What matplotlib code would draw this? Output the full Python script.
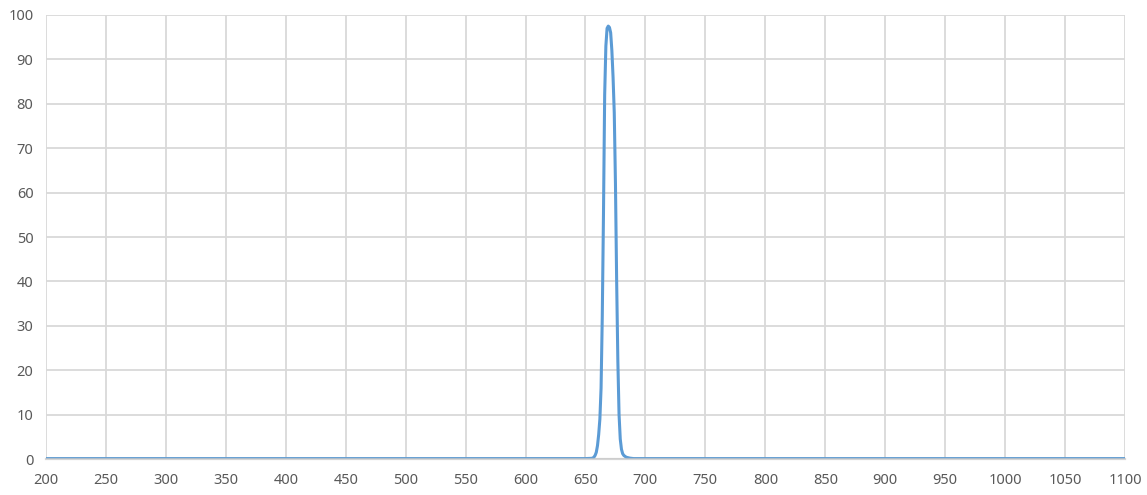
import matplotlib.pyplot as plt

# transmission curve (wavelength nm, %)
wavelength = [200, 300, 400, 500, 600, 640, 650, 655, 656, 657, 658, 659, 660,
              661, 662, 663, 664, 665, 666, 667, 668, 669, 670, 671, 672, 673,
              674, 675, 676, 677, 678, 679, 680, 681, 682, 684, 687, 690, 700,
              800, 900, 1000, 1100]
transmission = [0.1, 0.1, 0.1, 0.1, 0.1, 0.1, 0.1, 0.15, 0.2, 0.4, 0.8, 1.5, 3,
                5.5, 9, 16, 32, 55, 82, 93, 97, 97.5, 97.2, 96, 92, 86,
                78, 62, 40, 22, 10, 4.5, 2.2, 1.2, 0.8, 0.4, 0.2, 0.1, 0.1,
                0.1, 0.1, 0.1, 0.1]

x_ticks = list(range(200, 1101, 50))
y_ticks = list(range(0, 101, 10))

plt.rcParams['font.family'] = ['Noto Sans', 'DejaVu Sans']

fig = plt.figure(figsize=(11.47, 4.95), dpi=100)
ax = fig.add_axes([0.0401, 0.0727, 0.9407, 0.897])

ax.plot(wavelength, transmission, color='#5B9BD5', lw=2.2, zorder=2)

ax.set_xlim(200, 1100)
ax.set_ylim(0, 100)
ax.set_xticks(x_ticks)
ax.set_yticks(y_ticks)
ax.grid(True, color='#d9d9d9', lw=1.3)
ax.set_axisbelow(True)

for s in ['top', 'right', 'left']:
    ax.spines[s].set_visible(False)
ax.spines['bottom'].set_color('#c8c8c8')
ax.spines['bottom'].set_alpha(0.75)
ax.spines['bottom'].set_linewidth(1.6)
ax.spines['bottom'].set_zorder(2.5)

ax.tick_params(length=0, labelsize=10.5, labelcolor='#595959')
ax.tick_params(axis='x', pad=10)
ax.tick_params(axis='y', pad=9)

fig.savefig('out.png', dpi=100)
